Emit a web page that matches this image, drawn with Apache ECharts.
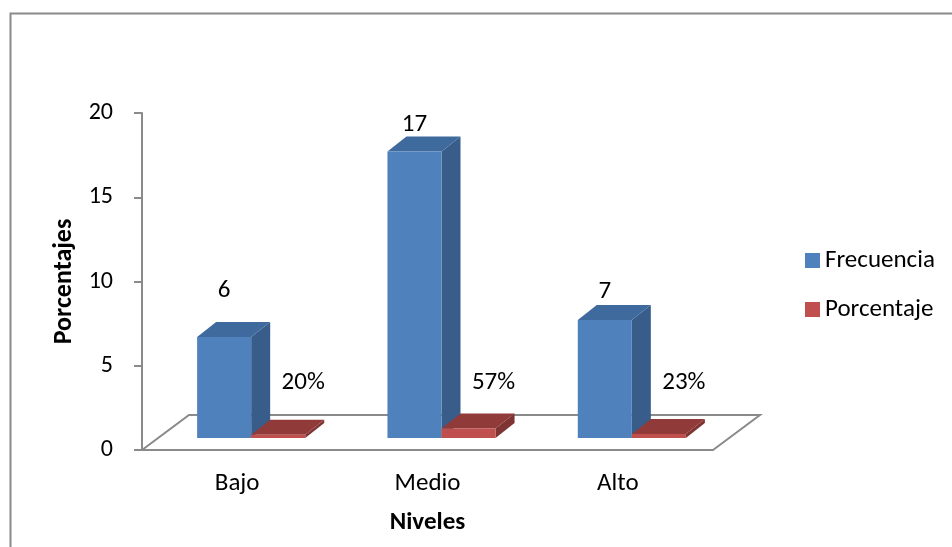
<!DOCTYPE html>
<html>
<head>
<meta charset="utf-8">
<script src="https://cdn.jsdelivr.net/npm/echarts@6/dist/echarts.min.js"></script>
<style>
  html, body { margin: 0; padding: 0; background: #fff; }
  #chart { width: 952px; height: 547px; }
</style>
</head>
<body>
<div id="chart"></div>
<script>
// ---- data ----
const categories = ['Bajo', 'Medio', 'Alto'];
const frecuencia = [6, 17, 7];
const porcentaje = [0.20, 0.57, 0.23];
const porcentajeLabels = ['20%', '57%', '23%'];
const yTicks = { min: 0, max: 20, interval: 5 };

// ---- style constants (pixel geometry of the 3D look) ----
const FONT = 'Carlito, Calibri, Lato, "Open Sans", sans-serif';
const FS = 25;
const DX = 14, DY = -12;          // bar row offset into depth
const DDX = 19, DDY = -15;        // bar thickness (depth)
const FLOOR_DX = 47, FLOOR_DY = -35;
const BAR_RATIO = 0.284;
const blueLabelLift = [46, 27, 28];
const blueFaces = { front: '#4F81BD', side: '#385D8A', top: '#3F6A9E' };
const redFaces = { front: '#C0504D', side: '#7E3432', top: '#903B39' };

function barRenderer(k, faces, labelFor) {
  return function (params, api) {
    const i = api.value(0), v = api.value(1);
    const base = api.coord([i, 0]);
    const top = api.coord([i, v]);
    const band = api.size([1, 0])[0];
    const bw = band * BAR_RATIO;
    const x0 = base[0] + DX - bw + k * bw;
    const y0 = base[1] + DY;
    const yt = top[1] + DY;
    const x1 = x0 + bw;
    const lab = labelFor(i, x0, x1, y0, yt);
    return {
      type: 'group',
      children: [
        { type: 'polygon', shape: { points: [[x1, y0], [x1 + DDX, y0 + DDY], [x1 + DDX, yt + DDY], [x1, yt]] },
          style: { fill: faces.side } },
        { type: 'polygon', shape: { points: [[x0, yt], [x0 + DDX, yt + DDY], [x1 + DDX, yt + DDY], [x1, yt]] },
          style: { fill: faces.top } },
        { type: 'rect', shape: { x: x0, y: yt, width: bw, height: y0 - yt },
          style: { fill: faces.front } },
        { type: 'text', style: { text: lab.text, x: lab.x, y: lab.y, align: 'center', verticalAlign: 'middle',
          fontSize: FS, fontFamily: FONT, fill: '#000' } }
      ]
    };
  };
}

const chart = echarts.init(document.getElementById('chart'), null, { renderer: 'canvas' });
const option = {
  animation: false,
  backgroundColor: '#fff',
  graphic: [
    { type: 'rect', shape: { x: 10.5, y: 13.5, width: 1000, height: 600 },
      style: { fill: 'none', stroke: '#8a8a8a', lineWidth: 2 }, silent: true, z: 0 }
  ],
  legend: {
    orient: 'vertical',
    left: 800, top: 243,
    itemWidth: 15, itemHeight: 15, itemGap: 24,
    icon: 'rect',
    textStyle: { fontSize: FS, lineHeight: 25, fontFamily: FONT, color: '#000', padding: [0, 0, 0, 0] },
    data: ['Frecuencia', 'Porcentaje']
  },
  grid: { left: 142, right: 239, top: 113, bottom: 97, containLabel: false },
  xAxis: {
    type: 'category',
    data: categories,
    name: 'Niveles',
    nameLocation: 'middle',
    nameGap: 60,
    nameTextStyle: { fontSize: FS, fontWeight: 'bold', fontFamily: FONT, color: '#000' },
    axisLine: { show: true, lineStyle: { color: '#8a8a8a', width: 2 } },
    axisTick: { show: false },
    axisLabel: { fontSize: FS, fontFamily: FONT, color: '#000', margin: 21 },
    splitLine: { show: false }
  },
  yAxis: {
    type: 'value',
    min: yTicks.min, max: yTicks.max, interval: yTicks.interval,
    name: 'Porcentajes',
    nameLocation: 'middle',
    nameGap: 60,
    nameRotate: 90,
    nameTextStyle: { fontSize: 26, fontWeight: 'bold', fontFamily: FONT, color: '#000' },
    axisLine: { show: true, lineStyle: { color: '#8a8a8a', width: 2 } },
    axisTick: { show: true, length: 8, lineStyle: { color: '#8a8a8a', width: 2 } },
    axisLabel: { fontSize: 24, fontFamily: FONT, color: '#000', margin: 29 },
    splitLine: { show: false }
  },
  series: [
    {
      type: 'custom',
      name: 'floor',
      silent: true,
      data: [[0, 0]],
      renderItem: function (params, api) {
        const cs = params.coordSys;
        const xl = cs.x, xr = cs.x + cs.width, yb = cs.y + cs.height;
        return {
          type: 'polyline',
          shape: { points: [[xl, yb], [xl + FLOOR_DX, yb + FLOOR_DY], [xr + FLOOR_DX, yb + FLOOR_DY], [xr, yb]] },
          style: { stroke: '#8a8a8a', lineWidth: 2, fill: 'none' }
        };
      },
      z: 1
    },
    {
      type: 'custom',
      name: 'Frecuencia',
      itemStyle: { color: blueFaces.front },
      data: frecuencia.map((v, i) => [i, v]),
      encode: { x: 0, y: 1 },
      renderItem: barRenderer(0, blueFaces, function (i, x0, x1, y0, yt) {
        return { text: String(frecuencia[i]), x: (x0 + x1) / 2, y: yt - blueLabelLift[i] };
      }),
      z: 2
    },
    {
      type: 'custom',
      name: 'Porcentaje',
      itemStyle: { color: redFaces.front },
      data: porcentaje.map((v, i) => [i, v]),
      encode: { x: 0, y: 1 },
      renderItem: barRenderer(1, redFaces, function (i, x0, x1, y0, yt) {
        return { text: porcentajeLabels[i], x: x0 + 52, y: y0 - 55 };
      }),
      z: 3
    }
  ]
};
chart.setOption(option);
</script>
</body>
</html>
